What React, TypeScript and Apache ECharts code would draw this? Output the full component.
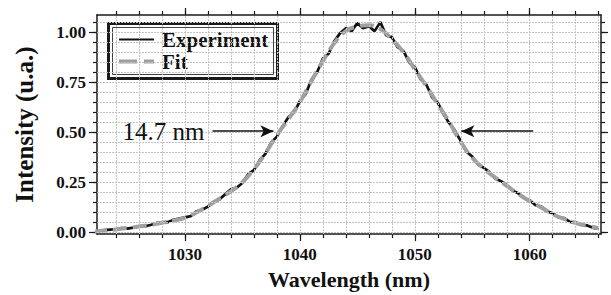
import { useEffect, useRef } from "react";
import * as echarts from "echarts";

// ---- data ----
const fitWavelengths = [
  1022, 1023, 1024, 1025, 1026, 1027, 1028, 1029, 1030, 1031, 1032, 1033, 1034, 1035, 1036,
  1037, 1038, 1039, 1040, 1041, 1042, 1043, 1044, 1045, 1046, 1047, 1048, 1049, 1050, 1051,
  1052, 1053, 1054, 1055, 1056, 1057, 1058, 1059, 1060, 1061, 1062, 1063, 1064, 1065, 1066,
];
const fitValues = [
  0.003, 0.008, 0.014, 0.021, 0.028, 0.037, 0.047, 0.058, 0.072, 0.098, 0.132, 0.167, 0.205, 0.25, 0.315,
  0.395, 0.485, 0.565, 0.65, 0.755, 0.855, 0.945, 1.005, 1.028, 1.035, 1.015, 0.965, 0.9, 0.815, 0.73,
  0.64, 0.55, 0.45, 0.372, 0.318, 0.273, 0.232, 0.192, 0.155, 0.124, 0.09, 0.066, 0.046, 0.032, 0.02,
];

const expWavelengths = [
  1022.5, 1023, 1023.5, 1024, 1024.5, 1025, 1025.5, 1026, 1026.5, 1027, 1027.5, 1028, 1028.5, 1029, 1029.5,
  1030, 1030.5, 1031, 1031.5, 1032, 1032.5, 1033, 1033.5, 1034, 1034.5, 1035, 1035.5, 1036, 1036.5, 1037,
  1037.5, 1038, 1038.5, 1039, 1039.5, 1040, 1040.5, 1041, 1041.5, 1042, 1042.5, 1043, 1043.5, 1044, 1044.5,
  1045, 1045.5, 1046, 1046.5, 1047, 1047.5, 1048, 1048.5, 1049, 1049.5, 1050, 1050.5, 1051, 1051.5, 1052,
  1052.5, 1053, 1053.5, 1054, 1054.5, 1055, 1055.5, 1056, 1056.5, 1057, 1057.5, 1058, 1058.5, 1059, 1059.5,
  1060, 1060.5, 1061, 1061.5, 1062, 1062.5, 1063, 1063.5, 1064, 1064.5, 1065, 1065.5, 1066,
];
const expValues = [
  0.004, 0.01, 0.013, 0.016, 0.02, 0.018, 0.023, 0.03, 0.029, 0.036, 0.045, 0.049, 0.05, 0.062, 0.068,
  0.074, 0.08, 0.105, 0.112, 0.128, 0.152, 0.163, 0.19, 0.215, 0.222, 0.246, 0.29, 0.31, 0.36, 0.392,
  0.448, 0.478, 0.53, 0.575, 0.598, 0.655, 0.69, 0.762, 0.8, 0.868, 0.892, 0.955, 0.995, 1.02, 1.005,
  1.045, 1.02, 1.03, 1.005, 1.05, 0.985, 0.975, 0.925, 0.908, 0.85, 0.825, 0.765, 0.738, 0.675, 0.648,
  0.59, 0.545, 0.508, 0.455, 0.402, 0.378, 0.338, 0.322, 0.3, 0.268, 0.255, 0.236, 0.208, 0.195, 0.17,
  0.16, 0.135, 0.128, 0.104, 0.095, 0.074, 0.07, 0.052, 0.048, 0.036, 0.034, 0.022, 0.018,
];

const majorXTicks = [1030, 1040, 1050, 1060];
const minorXTicks = [
  1024, 1026, 1028, 1030, 1032, 1034, 1036, 1038, 1040, 1042, 1044, 1046, 1048, 1050, 1052, 1054,
  1056, 1058, 1060, 1062, 1064, 1066,
];
const majorYTicks = [0, 0.25, 0.5, 0.75, 1.0];
const minorYTicks = [
  0, 0.05, 0.1, 0.15, 0.2, 0.25, 0.3, 0.35, 0.4, 0.45, 0.5, 0.55, 0.6, 0.65, 0.7, 0.75, 0.8, 0.85,
  0.9, 0.95, 1.0, 1.05,
];

const fwhmText = "14.7 nm";
const halfMax = 0.505;
const leftArrow = [1032.4, 1037.7];
const rightArrow = [1060.3, 1054.05];

const X_MIN = 1022.35;
const X_MAX = 1066.2;
const Y_MIN = -0.0095;
const Y_MAX = 1.0857;

const SERIF = "Liberation Serif";
const AXIS_COLOR = "#1a1a1a";
const GRID_COLOR = "#c2c2c2";

function xAxisDef(position: "top" | "bottom", ticks: number[], len: number, main: boolean, labels: boolean) {
  return {
    type: "value",
    position,
    min: X_MIN,
    max: X_MAX,
    axisLine: { show: main, onZero: false, lineStyle: { color: AXIS_COLOR, width: 1.5 } },
    axisTick: { show: true, inside: false, length: len, customValues: ticks, lineStyle: { color: AXIS_COLOR, width: 1.2 } },
    axisLabel: labels
      ? {
          show: true,
          customValues: ticks,
          margin: 12,
          formatter: (v: number) => String(Math.round(v)),
          fontFamily: SERIF,
          fontWeight: "bold",
          fontSize: 17,
          color: "#111",
        }
      : { show: false },
    splitLine: { show: false },
    ...(labels
      ? {
          name: "Wavelength (nm)",
          nameLocation: "middle",
          nameGap: 28,
          nameTextStyle: { fontFamily: SERIF, fontWeight: "bold", fontSize: 22, color: "#111" },
        }
      : {}),
  };
}

function yAxisDef(position: "left" | "right", ticks: number[], len: number, main: boolean, labels: boolean) {
  return {
    type: "value",
    position,
    min: Y_MIN,
    max: Y_MAX,
    axisLine: { show: main, onZero: false, lineStyle: { color: AXIS_COLOR, width: 1.5 } },
    axisTick: { show: true, inside: false, length: len, customValues: ticks, lineStyle: { color: AXIS_COLOR, width: 1.2 } },
    axisLabel: labels
      ? {
          show: true,
          customValues: ticks,
          margin: 11,
          formatter: (v: number) => v.toFixed(2),
          fontFamily: SERIF,
          fontWeight: "bold",
          fontSize: 17,
          color: "#111",
        }
      : { show: false },
    splitLine: { show: false },
    ...(labels
      ? {
          name: "Intensity (u.a.)",
          nameLocation: "middle",
          nameGap: 60,
          nameRotate: 90,
          nameTextStyle: { fontFamily: SERIF, fontWeight: "bold", fontSize: 25, color: "#111" },
        }
      : {}),
  };
}

export default function App() {
  const ref = useRef<HTMLDivElement>(null);
  useEffect(() => {
    if (!ref.current) return;
    const chart = echarts.init(ref.current, null, { renderer: "svg" });
    const gridLineData: any[] = [
      ...minorXTicks.map((v) => ({ xAxis: v })),
      ...minorYTicks.map((v) => ({ yAxis: v })),
    ];
    const option: any = {
      animation: false,
      backgroundColor: "#ffffff",
      grid: { left: 97, right: 10, top: 15, bottom: 50, containLabel: false },
      xAxis: [
        xAxisDef("bottom", majorXTicks, 7, true, true),
        xAxisDef("bottom", minorXTicks, 4, false, false),
        xAxisDef("top", majorXTicks, 7, true, false),
        xAxisDef("top", minorXTicks, 4, false, false),
      ],
      yAxis: [
        yAxisDef("left", majorYTicks, 8, true, true),
        yAxisDef("left", minorYTicks, 4, false, false),
        yAxisDef("right", majorYTicks, 7, true, false),
        yAxisDef("right", minorYTicks, 4, false, false),
      ],
      legend: {
        orient: "vertical",
        left: 112,
        top: 24,
        itemWidth: 35,
        itemHeight: 14,
        itemGap: 1,
        selectedMode: false,
        itemStyle: { opacity: 0 },
        data: [
          { name: "Experiment", lineStyle: { width: 2 } },
          { name: "Fit", lineStyle: { type: [18, 7], width: 4 } },
        ],
        textStyle: { fontFamily: SERIF, fontWeight: "bold", fontSize: 21, color: "#111", lineHeight: 21, padding: [0, 0, 0, 3] },
      },
      graphic: [
        {
          type: "rect",
          z: 3,
          shape: { x: 108.5, y: 23.5, width: 169, height: 55 },
          style: { fill: "#ffffff", stroke: "#1a1a1a", lineWidth: 3 },
        },
        {
          type: "rect",
          z: 3,
          shape: { x: 112.5, y: 27.5, width: 161, height: 47 },
          style: { fill: "none", stroke: "#444", lineWidth: 1 },
        },
      ],
      series: [
        {
          name: "grid",
          type: "line",
          xAxisIndex: 0,
          yAxisIndex: 0,
          symbol: "none",
          data: [[X_MIN, Y_MIN]],
          lineStyle: { opacity: 0 },
          z: 1,
          markLine: {
            silent: true,
            symbol: ["none", "none"],
            label: { show: false },
            lineStyle: { color: GRID_COLOR, width: 1, type: [2, 1] },
            data: gridLineData,
          },
        },
        {
          name: "Experiment",
          type: "line",
          xAxisIndex: 0,
          yAxisIndex: 0,
          symbol: "none",
          data: expWavelengths.map((w, i) => [w, expValues[i]]),
          lineStyle: { color: "#111", width: 2.7 },
          itemStyle: { color: "#111" },
          z: 2,
        },
        {
          name: "Fit",
          type: "line",
          xAxisIndex: 0,
          yAxisIndex: 0,
          symbol: "none",
          smooth: true,
          data: fitWavelengths.map((w, i) => [w, fitValues[i]]),
          lineStyle: { color: "#a0a0a0", width: 4, type: [14, 6] },
          itemStyle: { color: "#a0a0a0" },
          z: 3,
          markLine: {
            silent: true,
            symbol: ["none", "arrow"],
            symbolSize: [9, 13],
            lineStyle: { color: "#111", width: 1.5, type: "solid" },
            label: { show: false },
            data: [
              [
                {
                  coord: [leftArrow[0], halfMax],
                  label: {
                    show: true,
                    position: "start",
                    formatter: fwhmText,
                    distance: 8,
                    fontFamily: SERIF,
                    fontSize: 25,
                    color: "#111",
                  },
                },
                { coord: [leftArrow[1], halfMax] },
              ],
              [{ coord: [rightArrow[0], halfMax] }, { coord: [rightArrow[1], halfMax] }],
            ],
          },
        },
      ],
    };
    chart.setOption(option);
    return () => chart.dispose();
  }, []);
  return <div ref={ref} style={{ position: "fixed", left: 0, top: 0, width: 611, height: 295 }} />;
}
